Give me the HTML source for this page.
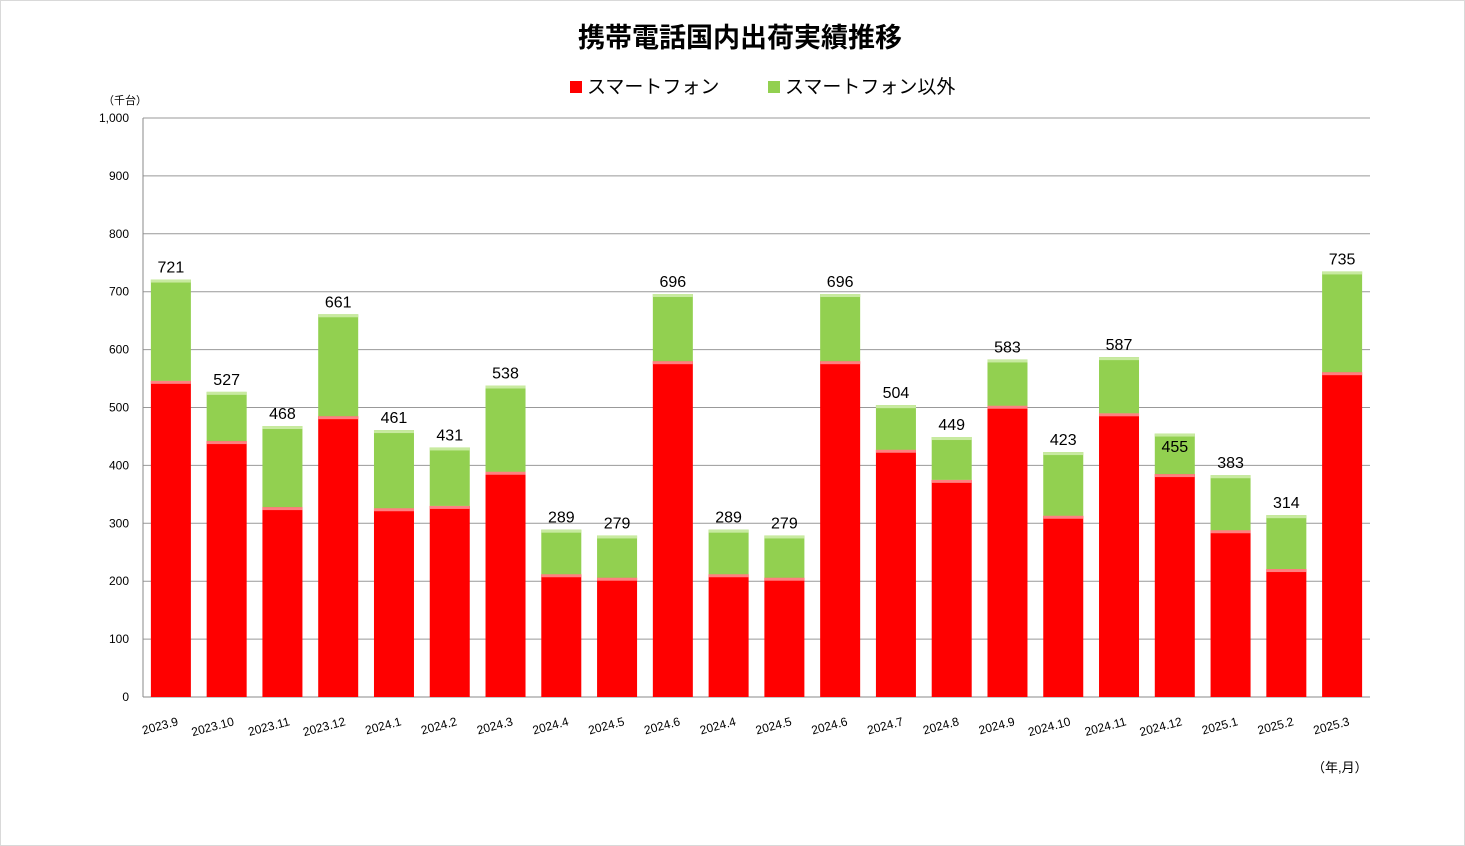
<!DOCTYPE html>
<html><head><meta charset="utf-8">
<style>
html,body{margin:0;padding:0;background:#fff;}
#wrap{position:relative;width:1465px;height:846px;overflow:hidden;font-family:"Liberation Sans","Noto Sans CJK JP",sans-serif;}
#frame{position:absolute;left:0;top:0;width:1463px;height:844px;border:1px solid #d9d9d9;}
</style></head>
<body>
<div id="wrap">
<div id="frame"></div>
<svg id="chart" width="1465" height="846" style="position:absolute;left:0;top:0">
<text x="740" y="47" text-anchor="middle" font-size="27" font-weight="bold" font-family="'Liberation Sans','Noto Sans CJK JP',sans-serif">携帯電話国内出荷実績推移</text>
<g>
<rect x="570" y="81" width="12" height="12" fill="#ff0000"/>
<text x="587" y="93" font-size="19" font-family="'Liberation Sans','Noto Sans CJK JP',sans-serif">スマートフォン</text>
</g>
<g>
<rect x="768" y="81" width="12" height="12" fill="#92d050"/>
<text x="785" y="93" font-size="19" font-family="'Liberation Sans','Noto Sans CJK JP',sans-serif">スマートフォン以外</text>
</g>
<text x="103" y="104" font-size="11" font-family="'Liberation Sans','Noto Sans CJK JP',sans-serif">（千台）</text>
<text x="1312" y="772" font-size="13" font-family="'Liberation Sans','Noto Sans CJK JP',sans-serif">（年,月）</text>
<g id="grid"></g><g id="bars"></g><g id="labels"></g>
</svg>
</div>
<script>
const categories=["2023.9","2023.10","2023.11","2023.12","2024.1","2024.2","2024.3","2024.4","2024.5","2024.6","2024.4","2024.5","2024.6","2024.7","2024.8","2024.9","2024.10","2024.11","2024.12","2025.1","2025.2","2025.3"];
const smartphone=[546,442,328,485,326,330,389,212,206,580,212,206,580,427,375,503,313,490,385,288,221,561];
const other=[175,85,140,176,135,101,149,77,73,116,77,73,116,77,74,80,110,97,70,95,93,174];
const yTicks=[0,100,200,300,400,500,600,700,800,900,1000];
const NS="http://www.w3.org/2000/svg";
const X0=143,X1=1370,Y0=697,Y1=118,YMAX=1000;
function y(v){return Y0-(Y0-Y1)*v/YMAX;}
const step=(X1-X0)/categories.length, bw=40;
function x(i){return X0+step*i+(step-bw)/2;}
function el(tag,attrs,parent){const e=document.createElementNS(NS,tag);for(const k in attrs)e.setAttribute(k,attrs[k]);parent.appendChild(e);return e;}
const grid=document.getElementById('grid'),bars=document.getElementById('bars'),labels=document.getElementById('labels');
const FF="'Liberation Sans','Noto Sans CJK JP',sans-serif";
yTicks.forEach(t=>{
  const l=el('line',{x1:X0,x2:X1,y1:y(t),y2:y(t),stroke:t===0?'#888':'#999','stroke-width':1},grid);
  
  
  const tx=el('text',{x:X0-14,y:y(t)+4,'text-anchor':'end','font-size':12,'font-family':FF},grid);
  tx.textContent=t.toLocaleString('en-US');
  
  
});
const ax=el('line',{x1:X0,x2:X0,y1:Y1,y2:Y0,stroke:'#888'},grid);


categories.forEach((c,i)=>{
  const s=smartphone[i],o=other[i],tot=s+o,bx=x(i);
  const r=el('rect',{x:bx,y:y(s),width:bw,height:y(0)-y(s),fill:'#ff0000'},bars);
  
  
  const rh=el('rect',{x:bx,y:y(s),width:bw,height:3,fill:'#ff8080'},bars);
  
  
  const g=el('rect',{x:bx,y:y(tot),width:bw,height:y(s)-y(tot),fill:'#92d050'},bars);
  
  
  const gh=el('rect',{x:bx,y:y(tot),width:bw,height:3,fill:'#c8eaa0'},bars);
  
  
  const lt=el('text',{x:bx+bw/2,y:(i===18?y(s)-22:y(tot)-7),'text-anchor':'middle','font-size':16,'font-family':FF},labels);
  lt.textContent=tot;
  
  
  const cx=bx+bw/2+8, cy=Y0+28;
  const ct=el('text',{x:cx,y:cy,'text-anchor':'end','font-size':12,'font-family':FF,transform:`rotate(-15 ${cx} ${cy})`},labels);
  ct.textContent=c;
  
  
});
</script>
</body></html>
